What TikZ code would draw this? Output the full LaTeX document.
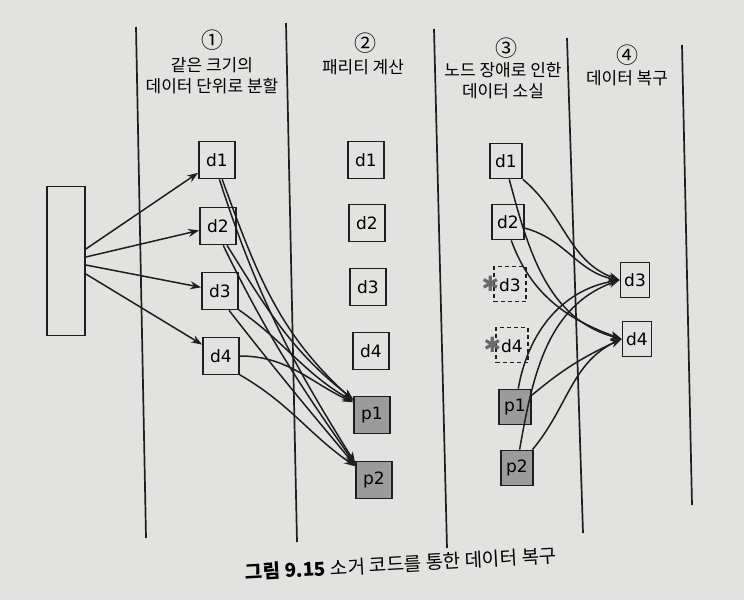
\documentclass[tikz,border=0pt]{standalone}
\usepackage{fontspec}
\setmainfont{DejaVu Sans}
\newfontfamily\kr{Noto Sans CJK KR}
\usetikzlibrary{arrows.meta}
\definecolor{paper}{RGB}{226,226,224}
\definecolor{ink}{RGB}{30,30,30}
\definecolor{pgray}{RGB}{155,155,155}
\definecolor{astgray}{RGB}{105,105,105}
\begin{document}
\begin{tikzpicture}[x=1pt,y=1pt,
  box/.style={draw=ink,line width=1.7pt,minimum width=36pt,minimum height=37pt,inner sep=0pt,font=\fontsize{17}{17}\selectfont},
  sbox/.style={box,minimum width=32pt,minimum height=35pt},
  tbox/.style={box,minimum width=29pt,minimum height=35pt},
  pbox/.style={box,fill=pgray},
  spbox/.style={sbox,fill=pgray},
  lost/.style={sbox,dashed,dash pattern=on 4pt off 3pt,line width=1.4pt},
  arr/.style={draw=ink,line width=1.5pt,-{Stealth[length=11pt,width=8pt]}},
  sepline/.style={draw=ink,line width=1.7pt},
  hdr/.style={font=\kr\fontsize{17}{21}\selectfont,align=center,inner sep=0pt},
  num/.style={font=\kr\fontsize{22}{22}\selectfont,inner sep=0pt}]
\fill[paper] (0,0) rectangle (744,-600);
\useasboundingbox (0,0) rectangle (744,-600);

% separators
\draw[sepline] (136,-27) -- (146,-538);
\draw[sepline] (286,-23) -- (297,-542);
\draw[sepline] (434,-29) -- (447,-548);
\draw[sepline] (567,-38) -- (583,-533);
\draw[sepline] (682,-45) -- (692,-505);

% headers
\node[num] (n1) at (212,-40) {①};
\node[hdr] (h1) at (212,-76) {같은 크기의\\데이터 단위로 분할};
\node[num] (n2) at (365,-43) {②};
\node[hdr] (h2) at (363,-67) {패리티 계산};
\node[num] (n3) at (506,-48) {③};
\node[hdr] (h3) at (503,-81) {노드 장애로 인한\\데이터 소실};
\node[num] (n4) at (627,-55) {④};
\node[hdr] (h4) at (627,-78) {데이터 복구};

% source block
\node[draw=ink,line width=1.7pt,minimum width=38pt,minimum height=149pt,inner sep=0pt] (src) at (66,-261) {};

% column 1
\node[box] (a1) at (217,-160) {d1};
\node[box] (a2) at (218,-226) {d2};
\node[box] (a3) at (220,-291) {d3};
\node[box] (a4) at (221,-356) {d4};

% column 2
\node[box] (b1) at (366,-160) {d1};
\node[box] (b2) at (367,-223) {d2};
\node[box] (b3) at (368,-287) {d3};
\node[box] (b4) at (371,-351) {d4};
\node[pbox] (bp1) at (372,-415) {p1};
\node[pbox] (bp2) at (374,-480) {p2};

% column 3
\node[sbox] (c1) at (506,-161) {d1};
\node[sbox] (c2) at (508,-222) {d2};
\node[lost] (c3) at (510,-284) {\llap{\textcolor{astgray}{\fontsize{21}{21}\selectfont ✱}}d3};
\node[lost] (c4) at (512,-345) {\llap{\textcolor{astgray}{\fontsize{21}{21}\selectfont ✱}}d4};
\node[spbox] (cp1) at (515,-407) {p1};
\node[spbox] (cp2) at (517,-468) {p2};

% column 4
\node[tbox] (e3) at (635,-280) {d3};
\node[tbox] (e4) at (637,-339) {d4};

% split arrows
\draw[arr] ([yshift=12pt]src.east) -- (a1);
\draw[arr] ([yshift=4pt]src.east) -- (a2);
\draw[arr] ([yshift=-4pt]src.east) -- (a3);
\draw[arr] ([yshift=-13pt]src.east) -- (a4);

% parity arrows
\draw[arr] (a1.-75) to[out=-70,in=138] (bp1.142);
\draw[arr] (a1.-83) to[out=-72,in=122] (bp2.138);
\draw[arr] (a2.-65) to[out=-58,in=142] (bp1.140);
\draw[arr] (a2.-75) to[out=-64,in=125] (bp2.140);
\draw[arr] (a3.-45) to[out=-35,in=150] (bp1.144);
\draw[arr] (a3.-65) to[out=-52,in=130] (bp2.142);
\draw[arr] (a4.east) to[out=0,in=155] (bp1.146);
\draw[arr] (a4.-45) to[out=-30,in=145] (bp2.144);

% recovery arrows
\draw[arr] (c1.south east) to[out=-40,in=160] (e3.west);
\draw[arr] (c1.-80) to[out=-75,in=165] (e4.west);
\draw[arr] (c2.-20) to[out=-15,in=170] (e3.west);
\draw[arr] (c2.-80) to[out=-70,in=160] (e4.west);
\draw[arr] (cp1.80) to[out=80,in=190] (e3.west);
\draw[arr] (cp1.35) to[out=40,in=205] (e4.west);
\draw[arr] (cp2.82) to[out=80,in=200] (e3.west);
\draw[arr] (cp2.50) to[out=50,in=205] (e4.west);

% caption
\node[font=\kr\fontsize{19}{19}\selectfont,rotate=3.2,inner sep=0pt] (cap) at (401,-564) {\textbf{그림 9.15} 소거 코드를 통한 데이터 복구};
\end{tikzpicture}
\end{document}
